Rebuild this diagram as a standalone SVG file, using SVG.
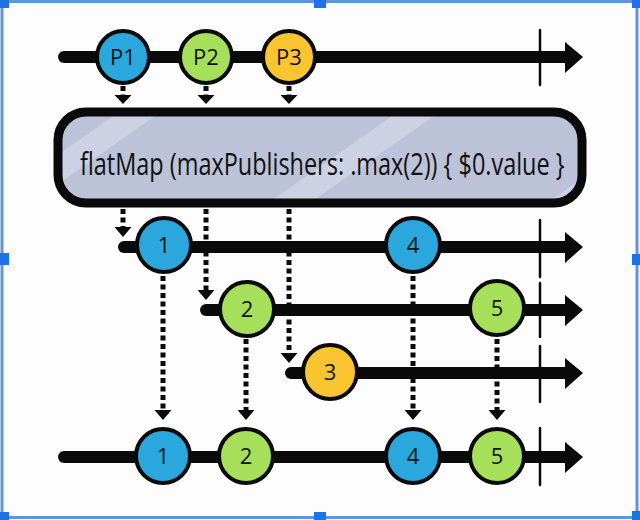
<svg xmlns="http://www.w3.org/2000/svg" width="640" height="520" viewBox="0 0 640 520">
<style>
.line{stroke:#0a0a0a;stroke-width:12;stroke-linecap:round;fill:none}
.head{fill:#0a0a0a}
.tick{stroke:#0a0a0a;stroke-width:2.5;stroke-linecap:round}
.dot{stroke:#0a0a0a;stroke-width:5;stroke-dasharray:5 3.5;fill:none}
.circ{stroke:#0a0a0a;stroke-width:4}
.blue{fill:#2aa8dd}.green{fill:#a6e05b}.yellow{fill:#fbc431}
.lbl{font-family:"Open Sans","Liberation Sans",sans-serif;font-size:22px;fill:#111;text-anchor:middle}
.frame{fill:none;stroke:#5f95dc;stroke-width:3}
.handle{fill:#1d72e6}
</style>
<defs>
<pattern id="stripes" patternUnits="userSpaceOnUse" width="160" height="160" patternTransform="rotate(-35)">
<rect width="160" height="160" fill="#bcc2d8"/>
<rect x="0" y="0" width="160" height="24" fill="#ccd1e3"/>
</pattern>
</defs>
<rect width="640" height="520" fill="#fdfdfd"/>
<g id="frame">
<rect class="frame" x="2" y="1.5" width="635" height="516"/>
<rect class="handle" x="0" y="0" width="9" height="8"/>
<rect class="handle" x="314" y="0" width="12" height="8"/>
<rect class="handle" x="632" y="0" width="8" height="8"/>
<rect class="handle" x="0" y="253" width="9" height="12"/>
<rect class="handle" x="632" y="254" width="8" height="11"/>
<rect class="handle" x="0" y="512" width="9" height="8"/>
<rect class="handle" x="314" y="512" width="12" height="8"/>
<rect class="handle" x="632" y="511" width="8" height="9"/>
</g>
<g id="connectors">
<path class="line" d="M64 57 H568"/>
<polygon class="head" points="565,42 583,57 565,73"/>
<line class="tick" x1="540" y1="30" x2="540" y2="85"/>
<path class="line" d="M124 247 H568"/>
<polygon class="head" points="565,232 583,247 565,263"/>
<line class="tick" x1="540" y1="220" x2="540" y2="277"/>
<path class="line" d="M206 310 H568"/>
<polygon class="head" points="565,295 583,310 565,326"/>
<line class="tick" x1="540" y1="283" x2="540" y2="337"/>
<path class="line" d="M291 373 H568"/>
<polygon class="head" points="565,358 583,373 565,389"/>
<line class="tick" x1="540" y1="346" x2="540" y2="402"/>
<path class="line" d="M64 457 H568"/>
<polygon class="head" points="565,442 583,457 565,473"/>
<line class="tick" x1="540" y1="428" x2="540" y2="485"/>
<path class="dot" d="M123 86 V96"/><polygon class="head" points="114.5,95 131.5,95 123,104"/>
<path class="dot" d="M206 86 V96"/><polygon class="head" points="197.5,95 214.5,95 206,104"/>
<path class="dot" d="M289 86 V96"/><polygon class="head" points="280.5,95 297.5,95 289,104"/>
<path class="dot" d="M123 209 V229"/><polygon class="head" points="114.5,227 131.5,227 123,237"/>
<path class="dot" d="M206 209 V291"/><polygon class="head" points="197.5,290 214.5,290 206,300"/>
<path class="dot" d="M289 209 V354"/><polygon class="head" points="280.5,353 297.5,353 289,363"/>
<path class="dot" d="M163 276 V411"/><polygon class="head" points="154.5,410 171.5,410 163,420"/>
<path class="dot" d="M246 339 V411"/><polygon class="head" points="237.5,410 254.5,410 246,420"/>
<path class="dot" d="M413 276 V411"/><polygon class="head" points="404.5,410 421.5,410 413,420"/>
<path class="dot" d="M497 339 V411"/><polygon class="head" points="488.5,410 505.5,410 497,420"/>
</g>
<g id="node-p1"><circle class="circ blue" cx="123" cy="57" r="26"/><text class="lbl" x="123" y="65">P1</text></g>
<g id="node-p2"><circle class="circ green" cx="206" cy="57" r="26"/><text class="lbl" x="206" y="65">P2</text></g>
<g id="node-p3"><circle class="circ yellow" cx="289" cy="57" r="26"/><text class="lbl" x="289" y="65">P3</text></g>
<g id="node-operator">
<rect x="58" y="112" width="524" height="91" rx="28" fill="url(#stripes)" stroke="#0a0a0a" stroke-width="9"/>
<text transform="translate(80,175) scale(0.72,1)" x="0" y="0" font-family="Open Sans, Liberation Sans, sans-serif" font-size="31" fill="#111" textLength="673" lengthAdjust="spacingAndGlyphs">flatMap (maxPublishers: .max(2)) { $0.value }</text>
</g>
<g id="node-r1-1"><circle class="circ blue" cx="164" cy="245" r="27"/><text class="lbl" x="164" y="253">1</text></g>
<g id="node-r1-4"><circle class="circ blue" cx="413" cy="245" r="27"/><text class="lbl" x="413" y="253">4</text></g>
<g id="node-r2-2"><circle class="circ green" cx="247" cy="309" r="27"/><text class="lbl" x="247" y="317">2</text></g>
<g id="node-r2-5"><circle class="circ green" cx="497" cy="308" r="27"/><text class="lbl" x="497" y="316">5</text></g>
<g id="node-r3-3"><circle class="circ yellow" cx="330" cy="372" r="27"/><text class="lbl" x="330" y="380">3</text></g>
<g id="node-out-1"><circle class="circ blue" cx="163" cy="456" r="27"/><text class="lbl" x="163" y="464">1</text></g>
<g id="node-out-2"><circle class="circ green" cx="246" cy="456" r="27"/><text class="lbl" x="246" y="464">2</text></g>
<g id="node-out-4"><circle class="circ blue" cx="413" cy="456" r="27"/><text class="lbl" x="413" y="464">4</text></g>
<g id="node-out-5"><circle class="circ green" cx="497" cy="456" r="27"/><text class="lbl" x="497" y="464">5</text></g>
</svg>
